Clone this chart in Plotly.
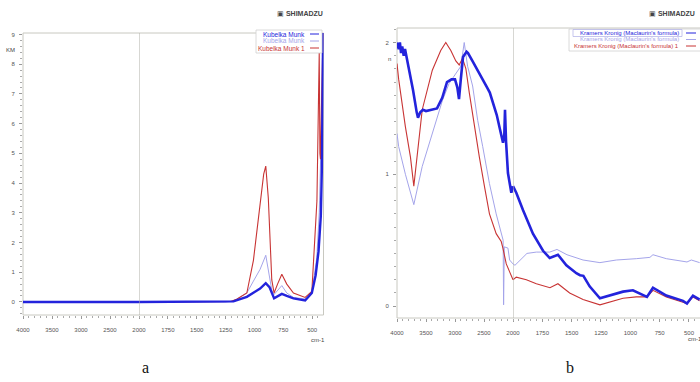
import plotly.graph_objects as go

# ---------------- data (wavenumber cm-1, values) ----------------
# Panel a: Kubelka Munk
km_blue_wn = [4000, 2000, 1250, 1182, 1066, 980, 951, 902, 870, 830, 800, 763, 720, 662, 561, 503, 470, 445, 425, 416, 410, 405]
km_blue_v = [0, 0, 0, 0.02, 0.17, 0.37, 0.45, 0.63, 0.5, 0.12, 0.18, 0.27, 0.2, 0.12, 0.05, 0.3, 0.9, 1.7, 2.9, 4.5, 7.0, 9.2]

km_lav_wn = [4000, 2000, 1250, 1182, 1066, 1009, 951, 902, 870, 850, 830, 763, 720, 662, 561, 503, 460, 439, 425, 416, 405]
km_lav_v = [0, 0, 0, 0.03, 0.3, 0.7, 1.1, 1.57, 0.9, 0.4, 0.25, 0.55, 0.3, 0.15, 0.1, 0.3, 1.5, 3.0, 5.1, 6.0, 9.2]

km_red_wn = [4000, 2000, 1250, 1200, 1150, 1066, 1009, 951, 920, 902, 880, 850, 830, 800, 763, 720, 662, 561, 503, 459, 445, 439, 433, 428, 420, 410, 405]
km_red_v = [0, 0, 0, 0.02, 0.1, 0.3, 1.4, 3.4, 4.3, 4.57, 3.5, 0.74, 0.3, 0.6, 0.93, 0.6, 0.3, 0.15, 0.35, 3.4, 7.0, 8.4, 5.0, 4.8, 6.5, 8.5, 9.2]

# Panel b: Kramers Kronig
kk_blue_wn = [4000, 3970, 3950, 3930, 3910, 3884, 3862, 3800, 3724, 3660, 3638, 3600, 3552, 3500, 3391, 3310, 3220,
              3138, 3060, 3000, 2960, 2931, 2900, 2862, 2800, 2776, 2700, 2621, 2520, 2448, 2400, 2345, 2280, 2224,
              2190, 2172, 2150, 2138, 2120, 2103, 2087, 2029, 2000, 1972, 1915, 1830, 1744, 1687, 1617, 1545, 1460,
              1429, 1400, 1347, 1259, 1176, 1062, 978, 858, 807, 693, 551, 517, 466, 409]
kk_blue_v = [2.0, 1.95, 2.0, 1.92, 1.97, 1.9, 1.95, 1.82, 1.64, 1.47, 1.43, 1.47, 1.49, 1.48, 1.49, 1.5, 1.58,
             1.70, 1.72, 1.72, 1.66, 1.57, 1.72, 1.89, 1.93, 1.92, 1.86, 1.80, 1.72, 1.66, 1.62, 1.55, 1.45, 1.34,
             1.27, 1.24, 1.30, 1.49, 1.25, 1.11, 1.01, 0.86, 0.91, 0.86, 0.73, 0.55, 0.42, 0.365, 0.39, 0.31, 0.25,
             0.235, 0.23, 0.15, 0.06, 0.08, 0.11, 0.12, 0.07, 0.14, 0.08, 0.04, 0.02, 0.08, 0.05]

kk_red_wn = [4000, 3971, 3855, 3768, 3710, 3565, 3391, 3246, 3159, 3072, 2986, 2928, 2870, 2812, 2754, 2667, 2580, 2493,
             2406, 2290, 2203, 2174, 2116, 2058, 2000, 1972, 1886, 1801, 1685, 1617, 1517, 1403, 1259, 1176, 1062, 949,
             858, 807, 693, 551, 517, 466, 409]
kk_red_v = [1.84, 1.72, 1.36, 1.13, 0.91, 1.49, 1.79, 1.94, 2.0, 1.94, 1.86, 1.83, 1.88, 1.80, 1.62, 1.36, 1.13, 0.91,
            0.70, 0.55, 0.49, 0.44, 0.32, 0.26, 0.20, 0.22, 0.20, 0.17, 0.14, 0.17, 0.10, 0.05, 0.01, 0.03, 0.06, 0.07,
            0.07, 0.12, 0.07, 0.03, 0.02, 0.07, 0.04]

kk_lav_wn = [4000, 3971, 3855, 3710, 3565, 3391, 3217, 3101, 2986, 2899, 2841, 2783, 2696, 2609, 2522, 2406, 2290, 2203,
             2170, 2162, 2150, 2087, 2058, 2000, 1983, 1881, 1801, 1687, 1625, 1540, 1403, 1259, 1119, 949, 833, 807,
             693, 551, 517, 480, 409]
kk_lav_v = [1.31, 1.21, 1.0, 0.77, 1.06, 1.31, 1.56, 1.69, 1.77, 1.82, 2.0, 1.82, 1.67, 1.41, 1.21, 0.93, 0.70, 0.55,
            0.50, 0.01, 0.45, 0.44, 0.35, 0.32, 0.31, 0.40, 0.41, 0.41, 0.43, 0.39, 0.35, 0.33, 0.35, 0.36, 0.37, 0.39,
            0.36, 0.34, 0.335, 0.35, 0.33]

x_hi_ticks = [4000, 3500, 3000, 2500, 2000]
x_lo_ticks = [1750, 1500, 1250, 1000, 750, 500]
km_y_ticks = [0, 1, 2, 3, 4, 5, 6, 7, 8, 9]
kk_y_ticks = [0, 1, 2]

km_legend = ["Kubelka Munk", "Kubelka Munk", "Kubelka Munk 1"]
kk_legend = ["Kramers Kronig (Maclaurin's formula)", "Kramers Kronig (Maclaurin's formula)",
             "Kramers Kronig (Maclaurin's formula) 1"]

BLUE = "#2323dc"
LAV = "#a4a4ea"
RED = "#c83434"

W, H = 700, 382


def px(x):
    return x / W


def py(y):
    return 1 - y / H


def split(wn, v):
    hi = [(a, b) for a, b in zip(wn, v) if a >= 2000]
    lo = [(a, b) for a, b in zip(wn, v) if a <= 2000]
    return hi, lo


fig = go.Figure()


def add_series(wn, v, color, width, xa_hi, xa_lo, ya):
    hi, lo = split(wn, v)
    for part, xa in ((hi, xa_hi), (lo, xa_lo)):
        fig.add_trace(go.Scatter(x=[p[0] for p in part], y=[p[1] for p in part], mode="lines",
                                 line=dict(color=color, width=width), xaxis=xa, yaxis=ya,
                                 showlegend=False, hoverinfo="skip"))


# panel a
add_series(km_lav_wn, km_lav_v, LAV, 1, "x", "x2", "y")
add_series(km_red_wn, km_red_v, RED, 1.1, "x", "x2", "y")
add_series(km_blue_wn, km_blue_v, BLUE, 2.4, "x", "x2", "y")
# panel b
add_series(kk_lav_wn, kk_lav_v, LAV, 1, "x3", "x4", "y2")
add_series(kk_red_wn, kk_red_v, RED, 1.1, "x3", "x4", "y2")
add_series(kk_blue_wn, kk_blue_v, BLUE, 2.6, "x3", "x4", "y2")

tickfont = dict(family="Liberation Sans", size=6, color="#555")


def minor(dt):
    return dict(ticks="outside", ticklen=2, tickcolor="#aaa", dtick=dt)


def ax(**kw):
    base = dict(showgrid=False, zeroline=False, showline=False, ticks="outside", ticklen=3,
                tickcolor="#999", tickfont=tickfont, ticklabelstandoff=6, automargin=False)
    base.update(kw)
    return base


# panel a geometry
aL, aM, aR, aT, aB = 23, 139, 323.5, 33, 315
# panel b geometry
bL, bM, bR, bT, bB = 397, 513, 700, 28, 318

fig.update_layout(
    template="none",
    width=W, height=H, margin=dict(l=0, r=0, t=0, b=0, autoexpand=False),
    paper_bgcolor="white", plot_bgcolor="white", showlegend=False,
    xaxis=ax(domain=[px(aL), px(aM)], range=[4000, 2000], anchor="y", tickvals=x_hi_ticks, minor=minor(100)),
    xaxis2=ax(domain=[px(aM), px(aR)], range=[2000, 402], anchor="y", tickvals=x_lo_ticks, minor=minor(50)),
    yaxis=ax(domain=[py(aB), py(aT)], range=[-0.44, 9.05], anchor="x", tickvals=km_y_ticks,
             ticklabelstandoff=3, minor=minor(0.2)),
    xaxis3=ax(domain=[px(bL), px(bM)], range=[4000, 2000], anchor="y2", tickvals=x_hi_ticks, minor=minor(100)),
    xaxis4=ax(domain=[px(bM), 1.0], range=[2000, 406], anchor="y2", tickvals=x_lo_ticks, minor=minor(50)),
    yaxis2=ax(domain=[py(bB), py(bT)], range=[-0.09, 2.11], anchor="x3", tickvals=kk_y_ticks,
              ticklabelstandoff=3, minor=minor(0.1)),
)

shapes = []
# frames
for L, T, R, B in ((aL, aT, aR, aB), (bL, bT, bR + 2, bB)):
    shapes.append(dict(type="rect", xref="paper", yref="paper", x0=px(L), x1=px(R), y0=py(B), y1=py(T),
                       line=dict(color="#c8c8c0", width=1), layer="below"))
# divider at 2000
shapes.append(dict(type="line", xref="x2", yref="paper", x0=2000, x1=2000, y0=py(aB), y1=py(aT),
                   line=dict(color="#b0b0a8", width=1)))
shapes.append(dict(type="line", xref="x4", yref="paper", x0=2000, x1=2000, y0=py(bB), y1=py(bT),
                   line=dict(color="#b0b0a8", width=1)))

annotations = []


def ann(x, y, text, size=6, color="#333", xanchor="center", family="Liberation Sans", **kw):
    annotations.append(dict(x=px(x), y=py(y), xref="paper", yref="paper", text=text, showarrow=False,
                            xanchor=xanchor, yanchor="middle", font=dict(size=size, color=color, family=family), **kw))


# legends (text + line samples)
leg_colors = [BLUE, LAV, RED]
# panel a legend
shapes.append(dict(type="rect", xref="paper", yref="paper", x0=px(256), x1=px(322), y0=py(53), y1=py(30),
                   line=dict(color="#d0d0d0", width=0.8), fillcolor="white"))
for i, (t, c) in enumerate(zip(km_legend, leg_colors)):
    yy = 34 + i * 7
    ann(307, yy, t, size=6.5, color=c, xanchor="right")
    shapes.append(dict(type="line", xref="paper", yref="paper", x0=px(310), x1=px(319), y0=py(yy), y1=py(yy),
                       line=dict(color=c, width=1)))
# panel b legend
shapes.append(dict(type="rect", xref="paper", yref="paper", x0=px(569), x1=px(702), y0=py(51), y1=py(29),
                   line=dict(color="#d0d0d0", width=0.8), fillcolor="white"))
shapes.append(dict(type="rect", xref="paper", yref="paper", x0=px(573), x1=px(682), y0=py(36.5), y1=py(29.5),
                   line=dict(color="#b8b8e8", width=0.8)))
for i, (t, c) in enumerate(zip(kk_legend, leg_colors)):
    yy = 33 + i * 6.5
    ann(681, yy, t, size=6, color=c, xanchor="right")
    shapes.append(dict(type="line", xref="paper", yref="paper", x0=px(686), x1=px(696), y0=py(yy), y1=py(yy),
                       line=dict(color=c, width=1)))

# axis unit labels
ann(10, 50, "KM", size=6, color="#444")
ann(318, 340, "cm-1", size=6, color="#444")
ann(389, 59, "n", size=6, color="#444")
ann(686, 339, "cm-1", size=6, color="#444", xanchor="left")

# logos
ann(325, 13, "▣ <b>SHIMADZU</b>", size=7, color="#444", xanchor="right")
ann(647, 13, "▣ <b>SHIMADZU</b>", size=7, color="#444", xanchor="left")

# panel letters
ann(145, 367, "a", size=16, color="#111", family="Liberation Serif")
ann(570, 367, "b", size=16, color="#111", family="Liberation Serif")

fig.update_layout(shapes=shapes, annotations=annotations)
fig.write_html("out.html", config={"displayModeBar": False},
               post_script="document.body.style.margin='0';document.body.style.overflow='hidden';")
